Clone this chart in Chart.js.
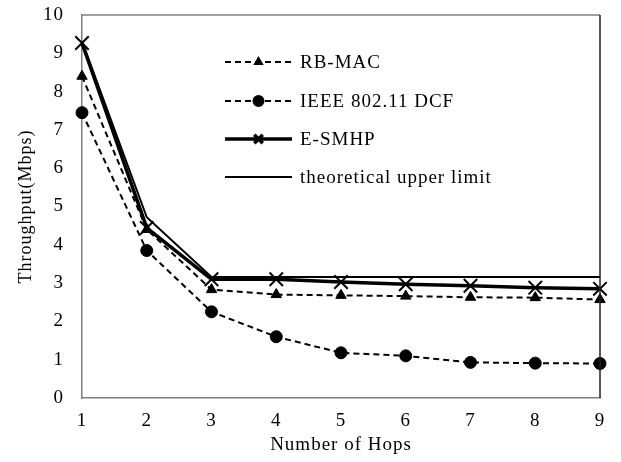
<!DOCTYPE html>
<html>
<head>
<meta charset="utf-8">
<script src="https://cdn.jsdelivr.net/npm/chart.js@4.4.1/dist/chart.umd.min.js"></script>
<style>
  html, body { margin: 0; padding: 0; background: #fff; }
  #wrap { width: 621px; height: 462px; }
</style>
</head>
<body>
<div id="wrap"><canvas id="myChart" width="621" height="462"></canvas></div>
<script>
"use strict";
const hops = ["1", "2", "3", "4", "5", "6", "7", "8", "9"];
const rbMac = [8.4, 4.4, 2.83, 2.7, 2.68, 2.66, 2.63, 2.62, 2.57];
const ieeeDcf = [7.45, 3.85, 2.25, 1.6, 1.18, 1.1, 0.93, 0.91, 0.9];
const eSmhp = [9.27, 4.44, 3.1, 3.1, 3.03, 2.97, 2.93, 2.88, 2.85];
const upperLimit = [9.32, 4.72, 3.16, 3.16, 3.16, 3.16, 3.16, 3.16, 3.16];
const seriesNames = ["RB-MAC", "IEEE 802.11 DCF", "E-SMHP", "theoretical upper limit"];

const serif = "'Liberation Serif', 'Times New Roman', serif";
const spacing = "1px"; // reference text looks stretched a bit wide

// wider letter spacing for all text on the canvas
const spacingPlugin = {
    id: "spacing",
    beforeInit(chart) { chart.ctx.letterSpacing = spacing; },
    beforeLayout(chart) { chart.ctx.letterSpacing = spacing; },
    beforeDraw(chart) { chart.ctx.letterSpacing = spacing; }
};

// box around the plot + legend drawn inside the plot area
const framePlugin = {
    id: "frame",
    afterDraw(chart) {
        const ctx = chart.ctx;
        const a = chart.chartArea;
        ctx.save();
        ctx.lineWidth = 1.5;
        ctx.strokeStyle = "#7f7f7f";
        ctx.beginPath();
        ctx.moveTo(a.left, a.top);
        ctx.lineTo(a.right, a.top);
        ctx.stroke();
        ctx.strokeStyle = "#222";
        ctx.beginPath();
        ctx.moveTo(a.right, a.top);
        ctx.lineTo(a.right, a.bottom);
        ctx.stroke();

        const rows = [62, 101, 139, 177];
        const x0 = 225, x1 = 292;
        chart.data.datasets.forEach((ds, i) => {
            const y = rows[i];
            ctx.strokeStyle = "#000";
            ctx.lineWidth = ds.borderWidth;
            ctx.setLineDash(ds.borderDash || []);
            ctx.beginPath();
            ctx.moveTo(x0, y);
            ctx.lineTo(x1, y);
            ctx.stroke();
            ctx.setLineDash([]);
            if (ds.pointRadius > 0) {
                Chart.helpers.drawPoint(ctx, {
                    pointStyle: ds.pointStyle,
                    radius: ds.legendRadius,
                    borderWidth: 1,
                    rotation: 0
                }, (x0 + x1) / 2, y);
            }
            ctx.fillStyle = "#000";
            ctx.font = "19px " + serif;
            ctx.textBaseline = "middle";
            ctx.textAlign = "left";
            ctx.fillText(ds.label, 300, y + 1);
        });
        ctx.restore();
    }
};

const ctx = document.querySelector("#myChart").getContext("2d");
const myChart = new Chart(ctx, {
    type: "line",
    data: {
        labels: hops,
        datasets: [{
            label: seriesNames[0],
            data: rbMac,
            borderColor: "#000",
            backgroundColor: "#000",
            borderWidth: 2,
            borderDash: [6, 4],
            pointStyle: "triangle",
            pointRadius: 6,
            legendRadius: 4,
            pointBorderWidth: 1
        }, {
            label: seriesNames[1],
            data: ieeeDcf,
            borderColor: "#000",
            backgroundColor: "#000",
            borderWidth: 2,
            borderDash: [6, 4],
            pointStyle: "circle",
            pointRadius: 6,
            legendRadius: 5,
            pointBorderWidth: 1
        }, {
            label: seriesNames[2],
            data: eSmhp,
            borderColor: "#000",
            backgroundColor: "#000",
            borderWidth: 3.5,
            pointStyle: "crossRot",
            pointRadius: 9.5,
            legendRadius: 6,
            pointBorderWidth: 2
        }, {
            label: seriesNames[3],
            data: upperLimit,
            borderColor: "#000",
            backgroundColor: "#000",
            borderWidth: 2,
            pointRadius: 0,
            legendRadius: 0
        }]
    },
    options: {
        responsive: false,
        animation: false,
        layout: { autoPadding: false, padding: { top: 15, right: 21, left: 0, bottom: 0 } },
        plugins: {
            legend: { display: false },
            tooltip: { enabled: false }
        },
        scales: {
            x: {
                grid: { display: false, drawTicks: false },
                border: { display: true, color: "#7f7f7f", width: 1.5 },
                ticks: { color: "#000", padding: 12, font: { family: serif, size: 19 }, maxRotation: 0 },
                title: { display: true, text: "Number of Hops", color: "#000", padding: { top: 2, bottom: 6 }, font: { family: serif, size: 19 } },
                afterFit: s => { s.height = 64; s.paddingTop = 0; s.paddingBottom = 0; }
            },
            y: {
                min: 0,
                max: 10,
                grid: { display: false, drawTicks: false },
                border: { display: true, color: "#7f7f7f", width: 1.5 },
                ticks: { stepSize: 1, color: "#000", padding: 18, font: { family: serif, size: 19 } },
                title: { display: true, text: "Throughput(Mbps)", color: "#000", padding: { top: 15, bottom: 4 }, font: { family: serif, size: 18 } },
                afterFit: s => { s.width = 82; s.paddingTop = 0; s.paddingBottom = 0; }
            }
        }
    },
    plugins: [spacingPlugin, framePlugin]
});
</script>
</body>
</html>
